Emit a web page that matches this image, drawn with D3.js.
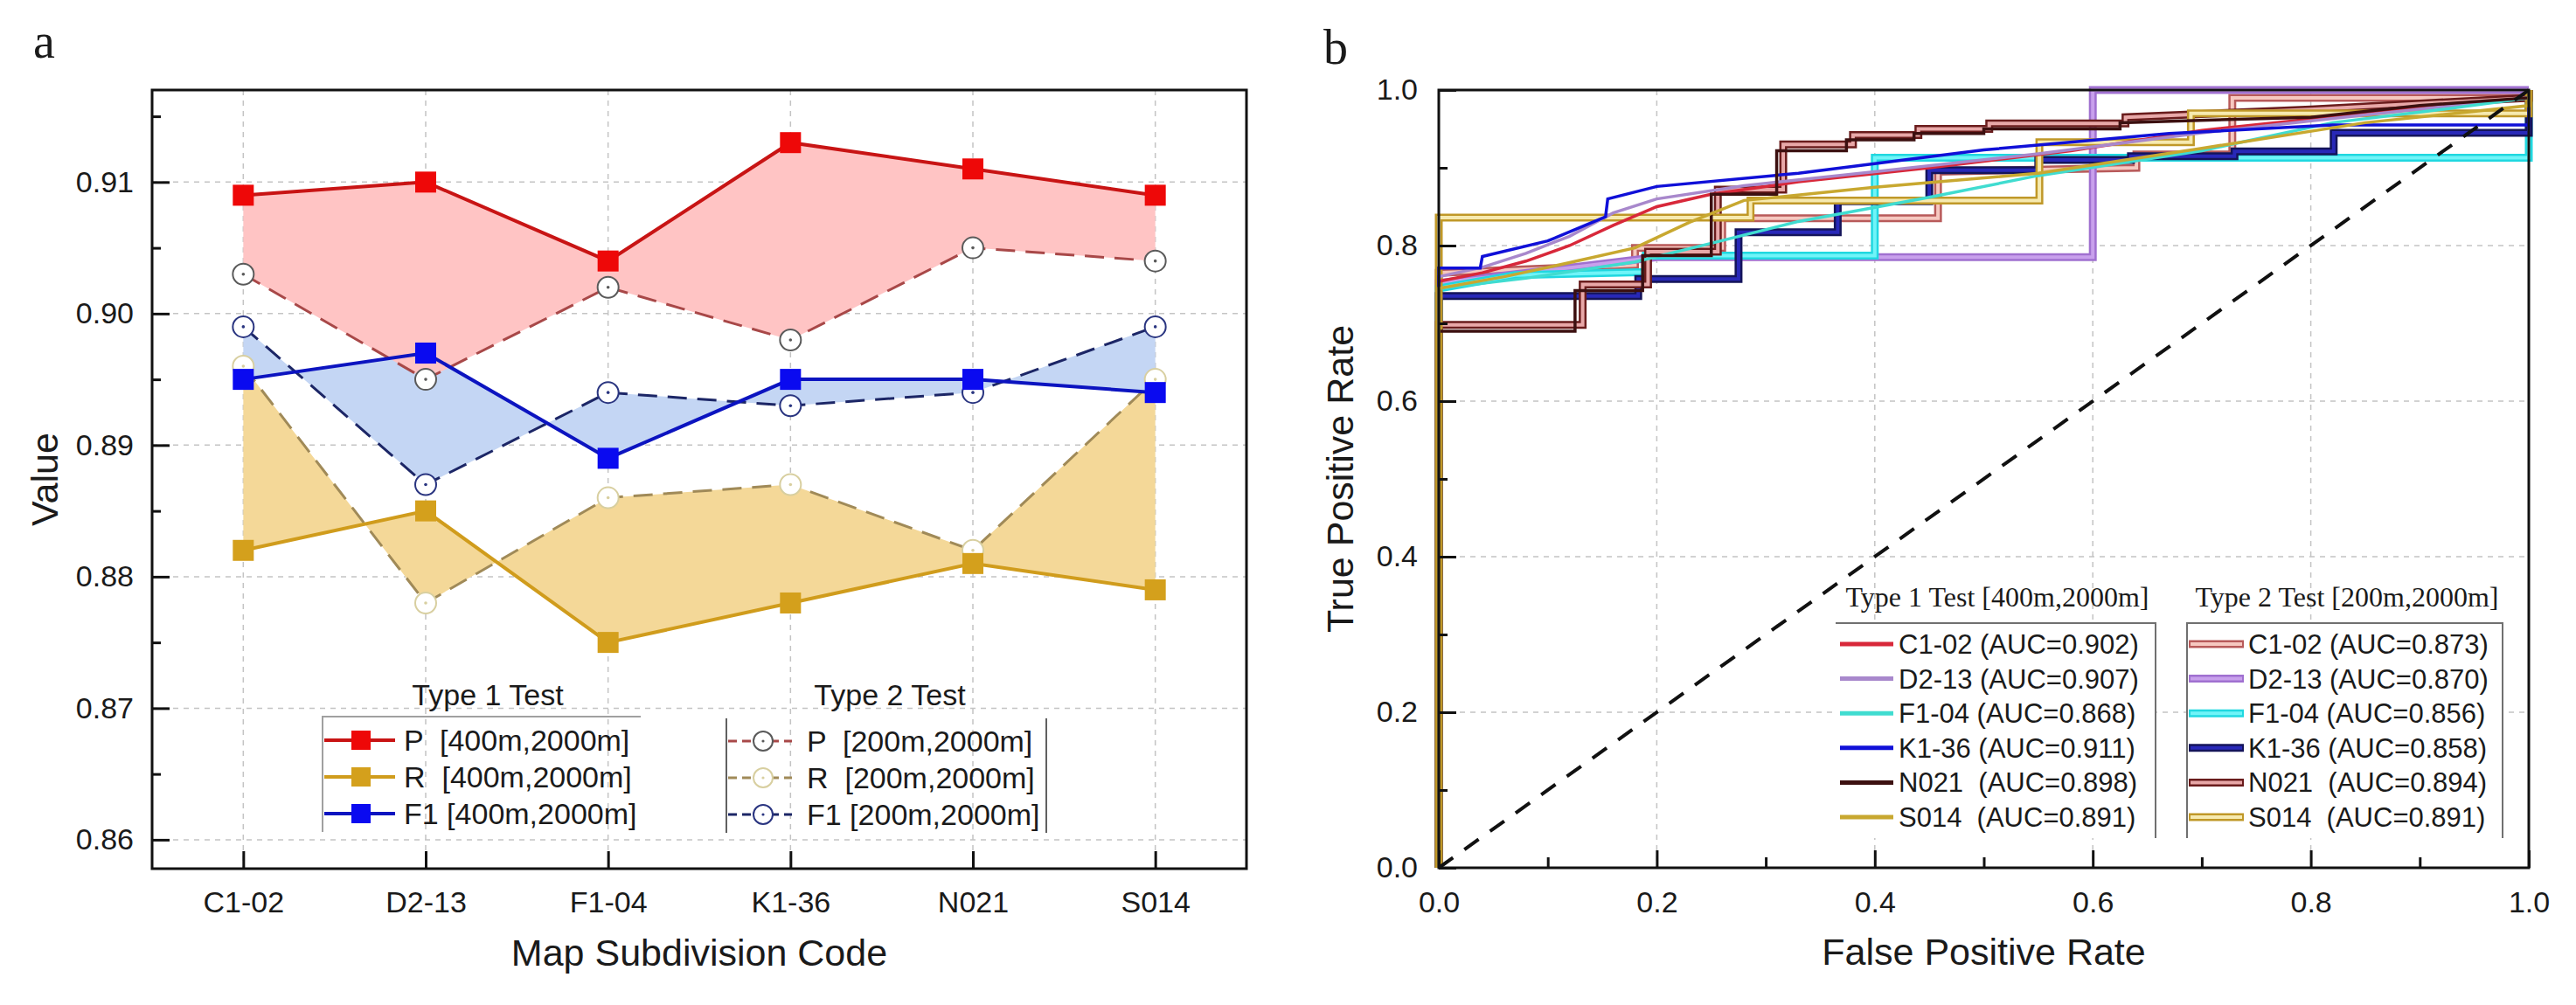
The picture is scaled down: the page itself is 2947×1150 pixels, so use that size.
<!DOCTYPE html>
<html>
<head>
<meta charset="utf-8">
<script src="https://cdn.jsdelivr.net/npm/d3@7"></script>
<style>
body { margin: 0; background: #fff; }
text { font-family: "Liberation Sans", Arial, sans-serif; fill: #1a1a1a; }
</style>
</head>
<body>
<script>
// ---- panel a data ----
var codes = ["C1-02", "D2-13", "F1-04", "K1-36", "N021", "S014"];
var pType1  = [0.909, 0.910, 0.904, 0.913, 0.911, 0.909];
var rType1  = [0.882, 0.885, 0.875, 0.878, 0.881, 0.879];
var f1Type1 = [0.895, 0.897, 0.889, 0.895, 0.895, 0.894];
var pType2  = [0.903, 0.895, 0.902, 0.898, 0.905, 0.904];
var rType2  = [0.896, 0.878, 0.886, 0.887, 0.882, 0.895];
var f1Type2 = [0.899, 0.887, 0.894, 0.893, 0.894, 0.899];
var valueTicks = [0.86, 0.87, 0.88, 0.89, 0.90, 0.91];
var valueMinor = [0.865, 0.875, 0.885, 0.895, 0.905, 0.915];
var legendType1 = ["P  [400m,2000m]", "R  [400m,2000m]", "F1 [400m,2000m]"];
var legendType2 = ["P  [200m,2000m]", "R  [200m,2000m]", "F1 [200m,2000m]"];

// ---- panel b data (ROC, [fpr, tpr]) ----
var rocNames = ["C1-02", "D2-13", "F1-04", "K1-36", "N021 ", "S014 "];
var aucType1 = [0.902, 0.907, 0.868, 0.911, 0.898, 0.891];
var aucType2 = [0.873, 0.870, 0.856, 0.858, 0.894, 0.891];
var rocTicks = [0, 0.2, 0.4, 0.6, 0.8, 1.0];
var rocMinor = [0.1, 0.3, 0.5, 0.7, 0.9];
var chanceLine = [[0, 0], [1, 1]];

var t1C102 = [[0,0],[0,0.754],[0.04,0.765],[0.08,0.78],[0.12,0.8],[0.16,0.826],[0.2,0.85],[0.25,0.866],[0.33,0.882],[0.45,0.9],[0.58,0.922],[0.7,0.948],[0.85,0.97],[1,0.99],[1,1]];
var t1D213 = [[0,0],[0,0.76],[0.04,0.772],[0.08,0.79],[0.12,0.812],[0.16,0.842],[0.2,0.86],[0.28,0.877],[0.4,0.895],[0.55,0.918],[0.7,0.945],[0.85,0.968],[1,0.99],[1,1]];
var t1F104 = [[0,0],[0,0.745],[0.08,0.758],[0.18,0.779],[0.25,0.803],[0.33,0.831],[0.45,0.862],[0.55,0.89],[0.7,0.922],[0.82,0.958],[0.92,0.975],[1,0.99],[1,1]];
var t1K136 = [[0,0],[0,0.771],[0.038,0.771],[0.04,0.786],[0.1,0.806],[0.153,0.837],[0.155,0.86],[0.2,0.876],[0.33,0.893],[0.5,0.923],[0.67,0.944],[0.82,0.955],[1,0.955],[1,1]];
var t1N021 = [[0,0],[0,0.69],[0.125,0.69],[0.125,0.742],[0.187,0.742],[0.187,0.787],[0.25,0.787],[0.25,0.866],[0.31,0.866],[0.31,0.922],[0.374,0.922],[0.374,0.936],[0.436,0.936],[0.436,0.944],[0.5,0.944],[0.5,0.95],[0.625,0.95],[0.625,0.958],[0.8,0.965],[0.9,0.98],[1,0.99],[1,1]];
var t1S014 = [[0,0],[0,0.745],[0.06,0.76],[0.12,0.778],[0.18,0.797],[0.23,0.83],[0.28,0.858],[0.4,0.875],[0.55,0.893],[0.7,0.925],[0.85,0.958],[1,0.98],[1,1]];

var t2C102 = [[0,0],[0,0.765],[0.18,0.775],[0.18,0.797],[0.26,0.797],[0.26,0.835],[0.458,0.835],[0.458,0.895],[0.64,0.9],[0.64,0.917],[0.728,0.917],[0.728,0.99],[1,0.99],[1,1]];
var t2D213 = [[0,0],[0,0.752],[0.1,0.768],[0.2,0.785],[0.6,0.785],[0.6,1],[1,1]];
var t2F104 = [[0,0],[0,0.745],[0.07,0.762],[0.19,0.766],[0.19,0.787],[0.4,0.787],[0.4,0.913],[1,0.913],[1,1]];
var t2K136 = [[0,0],[0,0.735],[0.183,0.735],[0.183,0.757],[0.275,0.757],[0.275,0.817],[0.366,0.817],[0.366,0.857],[0.45,0.857],[0.45,0.897],[0.55,0.897],[0.55,0.91],[0.635,0.91],[0.635,0.915],[0.73,0.915],[0.73,0.921],[0.821,0.921],[0.821,0.945],[1,0.945],[1,1]];
var t2N021 = [[0,0],[0,0.698],[0.132,0.698],[0.132,0.75],[0.192,0.75],[0.192,0.792],[0.256,0.792],[0.256,0.872],[0.316,0.872],[0.316,0.93],[0.38,0.93],[0.38,0.942],[0.44,0.942],[0.44,0.95],[0.505,0.95],[0.505,0.957],[0.63,0.957],[0.63,0.965],[0.8,0.975],[1,0.99],[1,1]];
var t2S014 = [[0,0],[0,0.836],[0.286,0.836],[0.286,0.858],[0.551,0.858],[0.551,0.933],[0.69,0.933],[0.69,0.97],[1,0.97],[1,1]];

var curvesType1 = [t1C102, t1D213, t1F104, t1K136, t1N021, t1S014];
var curvesType2 = [t2C102, t2D213, t2F104, t2K136, t2N021, t2S014];

// styles
var colType1 = ["#d8283a", "#a888cc", "#40dcd0", "#1010d8", "#3c1010", "#c8a830"];
var outType2 = ["#b85a5a", "#a070d0", "#20d8e0", "#14145a", "#6a1c1c", "#c09828"];
var inType2  = ["#f6c8c0", "#c8a0ec", "#70f4f8", "#2828b8", "#e8a8a8", "#f6eab0"];

var W = 2947, H = 1150;
var svg = d3.select("body").append("svg").attr("width", W).attr("height", H);

function styleAxis(g, fs) {
    g.select(".domain").remove();
    g.selectAll(".tick line").attr("stroke", "#111").attr("stroke-width", 3);
    g.selectAll(".tick text").attr("font-size", fs).attr("fill", "#222")
        .style("font-family", "'Liberation Sans', Arial, sans-serif");
}

// ================= panel a =================
var A = {l: 174, r: 1426, t: 103, b: 994};
var xa = d3.scalePoint().domain(codes).range([A.l, A.r]).padding(0.5);
var ya = d3.scaleLinear().domain([0.8578, 0.917]).range([A.b, A.t]);
var ga = svg.append("g");

ga.append("text").attr("x", 38).attr("y", 66).attr("font-size", 56)
    .style("font-family", "'Liberation Serif', 'Times New Roman', serif").text("a");

// grid
ga.selectAll(".hg").data(valueTicks).enter().append("line")
    .attr("x1", A.l).attr("x2", A.r).attr("y1", ya).attr("y2", ya)
    .attr("stroke", "#c4c4c4").attr("stroke-width", 1.5).attr("stroke-dasharray", "6,6");
ga.selectAll(".vg").data(codes).enter().append("line")
    .attr("x1", xa).attr("x2", xa).attr("y1", A.t).attr("y2", A.b)
    .attr("stroke", "#c4c4c4").attr("stroke-width", 1.5).attr("stroke-dasharray", "6,6");

var metrics = [
    {t1: rType1, t2: rType2, fill: "#f4d898", c1: "#d09c1c", m1: "#d4a01c", c2: "#a08a58", m2: "#d8cfa0"},
    {t1: f1Type1, t2: f1Type2, fill: "#c4d6f4", c1: "#0c14c0", m1: "#0a0af0", c2: "#1c2666", m2: "#2a3580"},
    {t1: pType1, t2: pType2, fill: "#ffc4c4", c1: "#c81414", m1: "#ee0808", c2: "#a84848", m2: "#5a5a5a"}
];

var areaA = d3.area()
    .x(function(d, i) { return xa(codes[i]); })
    .y0(function(d) { return ya(d[1]); })
    .y1(function(d) { return ya(d[0]); });
var lineA = d3.line()
    .x(function(d, i) { return xa(codes[i]); })
    .y(function(d) { return ya(d); });

metrics.forEach(function(m) {
    ga.append("path").attr("d", areaA(d3.zip(m.t1, m.t2))).attr("fill", m.fill);
});
metrics.forEach(function(m) {
    ga.append("path").attr("d", lineA(m.t2)).attr("fill", "none")
        .attr("stroke", m.c2).attr("stroke-width", 3).attr("stroke-dasharray", "22,12");
});
metrics.forEach(function(m) {
    ga.append("path").attr("d", lineA(m.t1)).attr("fill", "none")
        .attr("stroke", m.c1).attr("stroke-width", 4);
});
metrics.forEach(function(m) {
    ga.selectAll(null).data(m.t2).enter().append("circle")
        .attr("cx", function(d, i) { return xa(codes[i]); }).attr("cy", ya)
        .attr("r", 12).attr("fill", "#fff").attr("stroke", m.m2).attr("stroke-width", 2);
    ga.selectAll(null).data(m.t2).enter().append("circle")
        .attr("cx", function(d, i) { return xa(codes[i]); }).attr("cy", ya)
        .attr("r", 1.8).attr("fill", m.m2);
    ga.selectAll(null).data(m.t1).enter().append("rect")
        .attr("x", function(d, i) { return xa(codes[i]) - 12; })
        .attr("y", function(d) { return ya(d) - 12; })
        .attr("width", 24).attr("height", 24).attr("fill", m.m1);
});

// legend a
var legOrder = [metrics[2], metrics[0], metrics[1]];
var legY = [847, 889, 931];
ga.append("text").attr("x", 558).attr("y", 807).attr("text-anchor", "middle")
    .attr("font-size", 34).text("Type 1 Test");
ga.append("text").attr("x", 1018).attr("y", 807).attr("text-anchor", "middle")
    .attr("font-size", 34).text("Type 2 Test");
ga.append("path").attr("d", "M369,952V820H733").attr("fill", "none")
    .attr("stroke", "#a0a0a0").attr("stroke-width", 2);
ga.append("path").attr("d", "M831,822V953M1197,822V953").attr("fill", "none")
    .attr("stroke", "#606060").attr("stroke-width", 2);
legOrder.forEach(function(m, i) {
    var y = legY[i];
    ga.append("line").attr("x1", 371).attr("x2", 452).attr("y1", y).attr("y2", y)
        .attr("stroke", m.c1).attr("stroke-width", 4);
    ga.append("rect").attr("x", 402).attr("y", y - 11).attr("width", 22).attr("height", 22).attr("fill", m.m1);
    ga.append("text").attr("x", 462).attr("y", y + 12).attr("font-size", 34)
        .style("white-space", "pre").text(legendType1[i]);
    ga.append("line").attr("x1", 833).attr("x2", 906).attr("y1", y + 1).attr("y2", y + 1)
        .attr("stroke", m.c2).attr("stroke-width", 3).attr("stroke-dasharray", "10,6");
    ga.append("circle").attr("cx", 873).attr("cy", y + 1).attr("r", 11)
        .attr("fill", "#fff").attr("stroke", m.m2).attr("stroke-width", 2);
    ga.append("circle").attr("cx", 873).attr("cy", y + 1).attr("r", 1.6).attr("fill", m.m2);
    ga.append("text").attr("x", 923).attr("y", y + 13).attr("font-size", 34)
        .style("white-space", "pre").text(legendType2[i]);
});

// axes a
ga.append("g").attr("transform", "translate(" + A.l + ",0)")
    .call(d3.axisLeft(ya).tickValues(valueTicks).tickSize(-20).tickPadding(21).tickFormat(d3.format(".2f")))
    .call(styleAxis, 34);
ga.append("g").attr("transform", "translate(" + A.l + ",0)")
    .call(d3.axisLeft(ya).tickValues(valueMinor).tickSize(-10).tickFormat(""))
    .call(styleAxis, 34);
ga.append("g").attr("transform", "translate(0," + A.b + ")")
    .call(d3.axisBottom(xa).tickSize(-20).tickPadding(26))
    .call(styleAxis, 34);
ga.append("rect").attr("x", A.l).attr("y", A.t).attr("width", A.r - A.l).attr("height", A.b - A.t)
    .attr("fill", "none").attr("stroke", "#111").attr("stroke-width", 3);
ga.append("text").attr("x", (A.l + A.r) / 2).attr("y", 1105).attr("text-anchor", "middle")
    .attr("font-size", 43).text("Map Subdivision Code");
ga.append("text").attr("transform", "translate(66," + (A.t + A.b) / 2 + ") rotate(-90)")
    .attr("text-anchor", "middle").attr("font-size", 43).text("Value");

// ================= panel b =================
var B = {l: 1646, r: 2893, t: 103, b: 993};
var xb = d3.scaleLinear().domain([0, 1]).range([B.l, B.r]);
var yb = d3.scaleLinear().domain([0, 1]).range([B.b, B.t]);
var gb = svg.append("g");

gb.append("text").attr("x", 1514).attr("y", 73).attr("font-size", 56)
    .style("font-family", "'Liberation Serif', 'Times New Roman', serif").text("b");

var gridB = rocTicks.slice(1, 5);
gb.selectAll(".hg").data(gridB).enter().append("line")
    .attr("x1", B.l).attr("x2", B.r).attr("y1", yb).attr("y2", yb)
    .attr("stroke", "#c4c4c4").attr("stroke-width", 1.5).attr("stroke-dasharray", "6,6");
gb.selectAll(".vg").data(gridB).enter().append("line")
    .attr("x1", xb).attr("x2", xb).attr("y1", B.t).attr("y2", B.b)
    .attr("stroke", "#c4c4c4").attr("stroke-width", 1.5).attr("stroke-dasharray", "6,6");

var lineB = d3.line().x(function(d) { return xb(d[0]); }).y(function(d) { return yb(d[1]); });

curvesType2.forEach(function(c, i) {
    gb.append("path").attr("d", lineB(c)).attr("fill", "none")
        .attr("stroke", outType2[i]).attr("stroke-width", 9).attr("stroke-linejoin", "miter");
    gb.append("path").attr("d", lineB(c)).attr("fill", "none")
        .attr("stroke", inType2[i]).attr("stroke-width", 4).attr("stroke-linejoin", "miter");
});
curvesType1.forEach(function(c, i) {
    gb.append("path").attr("d", lineB(c)).attr("fill", "none")
        .attr("stroke", colType1[i]).attr("stroke-width", 3.5);
});
gb.append("path").attr("d", lineB(chanceLine)).attr("fill", "none")
    .attr("stroke", "#111").attr("stroke-width", 4).attr("stroke-dasharray", "20,16");

// legend b
var serif = "'Liberation Serif', 'Times New Roman', serif";
gb.append("text").attr("x", 2285).attr("y", 694).attr("text-anchor", "middle")
    .attr("font-size", 32).style("font-family", serif).text("Type 1 Test [400m,2000m]");
gb.append("text").attr("x", 2685).attr("y", 694).attr("text-anchor", "middle")
    .attr("font-size", 32).style("font-family", serif).text("Type 2 Test [200m,2000m]");
gb.append("rect").attr("x", 2100).attr("y", 713).attr("width", 366).attr("height", 246).attr("fill", "#fff");
gb.append("rect").attr("x", 2502).attr("y", 713).attr("width", 361).attr("height", 246).attr("fill", "#fff");
gb.append("path").attr("d", "M2100,713H2466V959").attr("fill", "none")
    .attr("stroke", "#707070").attr("stroke-width", 2);
gb.append("path").attr("d", "M2502,959V713H2863V959").attr("fill", "none")
    .attr("stroke", "#707070").attr("stroke-width", 2);
rocNames.forEach(function(n, i) {
    var y = 737 + i * 39.6;
    gb.append("line").attr("x1", 2105).attr("x2", 2166).attr("y1", y).attr("y2", y)
        .attr("stroke", colType1[i]).attr("stroke-width", 5);
    gb.append("text").attr("x", 2172).attr("y", y + 11).attr("font-size", 31)
        .style("white-space", "pre").text(n + " (AUC=" + d3.format(".3f")(aucType1[i]) + ")");
    gb.append("line").attr("x1", 2504).attr("x2", 2567).attr("y1", y).attr("y2", y)
        .attr("stroke", outType2[i]).attr("stroke-width", 9);
    gb.append("line").attr("x1", 2506).attr("x2", 2565).attr("y1", y).attr("y2", y)
        .attr("stroke", inType2[i]).attr("stroke-width", 4);
    gb.append("text").attr("x", 2572).attr("y", y + 11).attr("font-size", 31)
        .style("white-space", "pre").text(n + " (AUC=" + d3.format(".3f")(aucType2[i]) + ")");
});

// axes b
gb.append("g").attr("transform", "translate(" + B.l + ",0)")
    .call(d3.axisLeft(yb).tickValues(rocTicks).tickSize(-20).tickPadding(24).tickFormat(d3.format(".1f")))
    .call(styleAxis, 34);
gb.append("g").attr("transform", "translate(" + B.l + ",0)")
    .call(d3.axisLeft(yb).tickValues(rocMinor).tickSize(-10).tickFormat(""))
    .call(styleAxis, 34);
gb.append("g").attr("transform", "translate(0," + B.b + ")")
    .call(d3.axisBottom(xb).tickValues(rocTicks).tickSize(-20).tickPadding(27).tickFormat(d3.format(".1f")))
    .call(styleAxis, 34);
gb.append("g").attr("transform", "translate(0," + B.b + ")")
    .call(d3.axisBottom(xb).tickValues(rocMinor).tickSize(-12).tickFormat(""))
    .call(styleAxis, 34);
gb.append("rect").attr("x", B.l).attr("y", B.t).attr("width", B.r - B.l).attr("height", B.b - B.t)
    .attr("fill", "none").attr("stroke", "#111").attr("stroke-width", 3);
gb.append("text").attr("x", (B.l + B.r) / 2).attr("y", 1104).attr("text-anchor", "middle")
    .attr("font-size", 43).text("False Positive Rate");
gb.append("text").attr("transform", "translate(1548," + (B.t + B.b) / 2 + ") rotate(-90)")
    .attr("text-anchor", "middle").attr("font-size", 43).text("True Positive Rate");
</script>
</body>
</html>
